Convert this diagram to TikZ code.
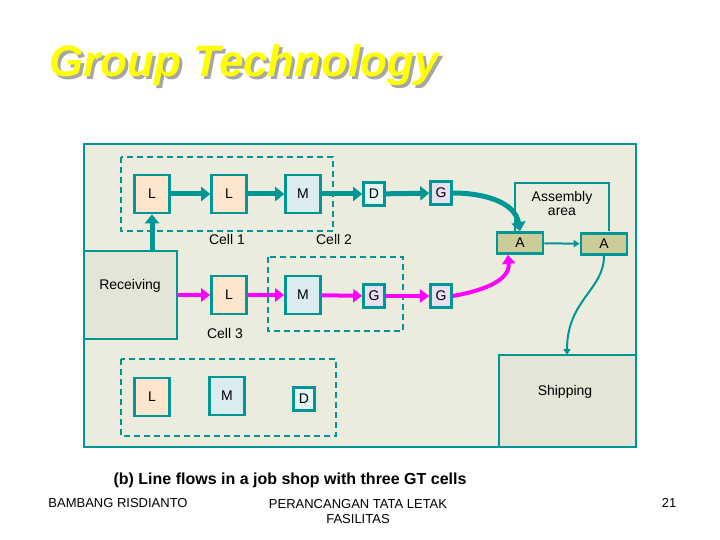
\documentclass[tikz,border=0pt]{standalone}
\usepackage{fontspec}
\setmainfont{Liberation Sans}
\usetikzlibrary{positioning, arrows.meta, calc}
\definecolor{gtteal}{RGB}{0,150,150}
\definecolor{magen}{RGB}{255,0,255}
\definecolor{floor}{RGB}{236,236,222}
\definecolor{area}{RGB}{228,228,215}
\definecolor{lathe}{RGB}{253,228,205}
\definecolor{mill}{RGB}{218,236,238}
\definecolor{drill}{RGB}{228,246,240}
\definecolor{grind}{RGB}{232,224,242}
\definecolor{assy}{RGB}{204,204,153}
\definecolor{titley}{RGB}{255,255,0}

\begin{document}
\begin{tikzpicture}[
    x=1pt, y=-1pt,
    % machines
    mach/.style={draw=gtteal, line width=2.6pt, minimum width=35pt, minimum height=38pt,
        inner sep=0pt, font=\fontsize{14}{16}\selectfont},
    small_mach/.style={draw=gtteal, line width=2.6pt, minimum width=21pt, minimum height=23pt,
        inner sep=0pt, font=\fontsize{14}{16}\selectfont},
    cell/.style={draw=gtteal, line width=2.4pt, dash pattern=on 6pt off 4pt},
    flow_teal/.style={draw=gtteal, line width=5pt, -{Triangle[length=9pt, width=14pt]}},
    flow_mag/.style={draw=magen, line width=4pt, -{Triangle[length=9pt, width=13pt]}},
    thin_teal/.style={draw=gtteal, line width=2pt, -{Triangle[length=6pt, width=7pt]}},
    lbl/.style={font=\fontsize{14}{16}\selectfont}
]
    \useasboundingbox (0,0) rectangle (720,540);

    % title
    \node[font=\fontsize{44}{46}\selectfont\bfseries\itshape, text=gray!70, anchor=west] (title_shadow) at (49,68) {Group Technology};
    \node[font=\fontsize{44}{46}\selectfont\bfseries\itshape, text=titley, anchor=west] (title) at (46,65) {Group Technology};

    % shop floor
    \draw[gtteal, line width=2.8pt, fill=floor] (84,144) rectangle (636,447);
    \draw[gtteal, line width=2.6pt, fill=area] (84,251) rectangle (177,339);
    \node[lbl] (recv) at (130,286) {Receiving};
    \draw[gtteal, line width=2.6pt, fill=area] (499,355) rectangle (636,447);
    \node[lbl] (ship) at (565,392) {Shipping};
    \coordinate (ship_top) at (567,355);
    \draw[gtteal, line width=2pt] (515,231) |- (609,183) -- (609,231);
    \node[lbl, align=center] at (562,203) {Assembly\\[-2pt]area};

    % cells
    \draw[cell] (121,157) rectangle (333,231);
    \draw[cell] (268,257) rectangle (403,331);
    \draw[cell] (121,359) rectangle (336,436);
    \node[lbl] at (227,239) {Cell 1};
    \node[lbl] at (334,239) {Cell 2};
    \node[lbl] at (225,333) {Cell 3};

    % row 1
    \node[mach, fill=lathe] (l1) at (152,194) {L};
    \node[mach, fill=lathe] (l2) at (229,194) {L};
    \node[mach, fill=mill] (m1) at (303,194) {M};
    \node[small_mach, fill=drill] (d1) at (374,194) {D};
    \node[small_mach, fill=grind] (g1) at (441,193) {G};
    % row 2
    \node[mach, fill=lathe] (l3) at (229,295) {L};
    \node[mach, fill=mill] (m2) at (303,295) {M};
    \node[small_mach, fill=grind] (g2) at (374,296) {G};
    \node[small_mach, fill=grind] (g3) at (441,296) {G};
    % row 3
    \node[mach, fill=lathe] (l4) at (152,397) {L};
    \node[mach, fill=mill] (m3) at (227,396) {M};
    \node[small_mach, fill=drill] (d2) at (304,399) {D};
    % assembly
    \node[draw=gtteal, line width=2.6pt, fill=assy, minimum width=46pt, minimum height=21pt, lbl] (a1) at (520,243) {A};
    \node[draw=gtteal, line width=2.6pt, fill=assy, minimum width=46pt, minimum height=21pt, lbl] (a2) at (604,244) {A};

    % teal flow
    \coordinate (recv_top) at (152,251);
    \draw[flow_teal] (recv_top) -- (l1.south);
    \draw[flow_teal] (l1) -- (l2);
    \draw[flow_teal] (l2) -- (m1);
    \draw[flow_teal] (m1) -- (d1);
    \draw[flow_teal] (d1) -- (g1);
    \draw[flow_teal] (g1.east) to[out=0, in=100] (a1.north);
    % magenta flow
    \coordinate (recv_right) at (177,295);
    \draw[flow_mag] (recv_right) -- (l3);
    \draw[flow_mag] (l3) -- (m2);
    \draw[flow_mag] (m2) -- (g2);
    \draw[flow_mag] (g2) -- (g3);
    \draw[flow_mag] (g3.east) to[out=10, in=-85] ($(a1.south)+(-12,0)$);
    % assembly to shipping
    \draw[thin_teal] (a1) -- (a2);
    \draw[thin_teal] (a2.south) .. controls (604,290) and (567,300) .. (ship_top);

    % caption and footer
    \node[font=\fontsize{16}{18}\selectfont\bfseries] at (290,480) {(b) Line flows in a job shop with three GT cells};
    \node[font=\fontsize{13}{15}\selectfont] at (118,503) {BAMBANG RISDIANTO};
    \node[font=\fontsize{13}{15}\selectfont, align=center] at (358,512) {PERANCANGAN TATA LETAK\\FASILITAS};
    \node[font=\fontsize{13}{15}\selectfont] at (669,503) {21};
\end{tikzpicture}
\end{document}
